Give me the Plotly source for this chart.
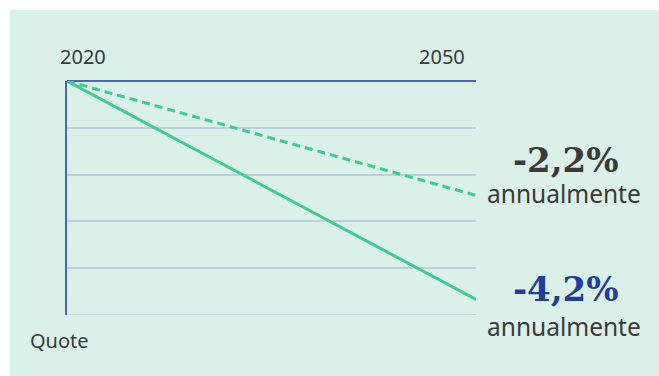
import plotly.graph_objects as go

# Cumulative change (percentage points) from 2020 to 2050
years = [2020, 2050]
slow_path = [0, -66]    # -2,2% per year
fast_path = [0, -126]   # -4,2% per year
grid_vals = [0, -27, -54, -81, -108, -135]

label_slow = "-2,2%"
label_fast = "-4,2%"
label_unit = "annualmente"

GREEN = "#3ccd92"
BLUE_AXIS = "#4a67b3"
GRID = "#bccfdf"
TEXT = "#3a3a3a"
BLUE_TEXT = "#1f3f9f"
PANEL = "#daf0e8"

W, H = 659, 376
L, R, T, B = 67, 476, 81, 315

fig = go.Figure()
fig.add_trace(go.Scatter(
    x=years, y=slow_path, mode="lines",
    line=dict(color=GREEN, width=3, dash="8px,5px"),
    hoverinfo="skip", showlegend=False,
))
fig.add_trace(go.Scatter(
    x=years, y=fast_path, mode="lines",
    line=dict(color=GREEN, width=3),
    hoverinfo="skip", showlegend=False,
))

# background panel
fig.add_shape(type="rect", xref="paper", yref="paper",
              x0=(10 - L) / (R - L), x1=(W - L) / (R - L),
              y0=(B - H) / (B - T), y1=(B - 10) / (B - T),
              fillcolor=PANEL, line_width=0, layer="below")

# bottom rule of the grid
fig.add_shape(type="line", xref="paper", yref="y",
              x0=0, x1=1, y0=grid_vals[-1], y1=grid_vals[-1],
              line=dict(color=GRID, width=1.5), layer="below")


def px_x(x):
    return (x - L) / (R - L)


def px_y(y):
    return (B - y) / (B - T)


sans = "Noto Sans, sans-serif"
serif = "DejaVu Serif, serif"


def label(x, y, text, family, size, color):
    fig.add_annotation(x=px_x(x), y=px_y(y), xref="paper", yref="paper",
                       xanchor="center", yanchor="middle",
                       text=text, showarrow=False,
                       font=dict(family=family, size=size, color=color))


label(82.5, 57, str(years[0]), sans, 20, TEXT)
label(442, 57, str(years[1]), sans, 20, TEXT)
label(59, 340, "Quote", sans, 20, TEXT)

label(566, 160, "<b>" + label_slow + "</b>", serif, 34, TEXT)
label(564, 193, label_unit, sans, 24.5, TEXT)
label(566, 289, "<b>" + label_fast + "</b>", serif, 34, BLUE_TEXT)
label(564, 326, label_unit, sans, 24.5, TEXT)

fig.update_xaxes(range=[years[0], years[1]], showgrid=False, zeroline=False,
                 showticklabels=False, ticks="", showline=False, fixedrange=True)
fig.update_yaxes(range=[-135, 0], tickvals=grid_vals, showticklabels=False,
                 ticks="", showgrid=True, gridcolor=GRID, gridwidth=1.5,
                 zeroline=True, zerolinecolor=BLUE_AXIS, zerolinewidth=2,
                 showline=True, linecolor=BLUE_AXIS, linewidth=2, fixedrange=True)

fig.update_layout(
    width=W, height=H,
    margin=dict(l=L, r=W - R, t=T, b=H - B),
    paper_bgcolor="white", plot_bgcolor="rgba(0,0,0,0)",
    showlegend=False,
)

fig.write_html("out.html", config={"displayModeBar": False})
